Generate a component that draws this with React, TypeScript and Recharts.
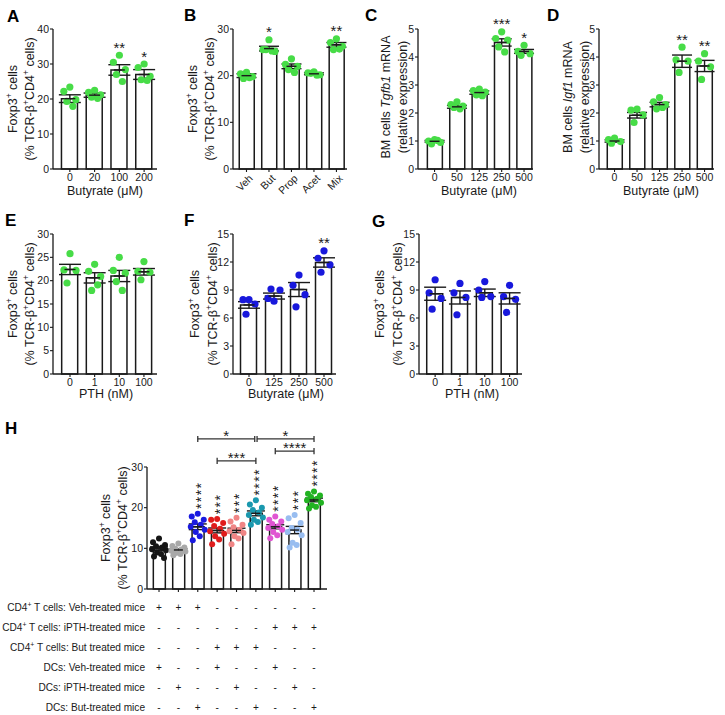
import React from "react";
import { Bar, ComposedChart, ErrorBar, ReferenceLine, Scatter, XAxis, YAxis } from "recharts";

const FONT = "'Liberation Sans', Arial, Helvetica, sans-serif";
const INK = "#1a1a1a";
const GREEN = "#47dc47";
const BLUE = "#1818dc";

// A: butyrate dose, Foxp3+ of TCR-b+CD4+
const aCats = ["0", "20", "100", "200"];
const aMean = [20.1, 21.1, 28.3, 27.0];
const aSem = [1.1, 0.6, 1.5, 1.4];
const aPts = [
  [23.4, 22.2, 19.8, 19.3, 17.9],
  [22.5, 21.9, 21.2, 20.5, 20.2],
  [32.5, 30.5, 28.4, 27.0, 25.0],
  [30.0, 29.0, 26.5, 25.5, 25.3],
];
const aSig = ["", "", "**", "*"];
const aTicks = [0, 10, 20, 30, 40];

// B: SCFAs
const bCats = ["Veh", "But", "Prop", "Acet", "Mix"];
const bMean = [20.0, 25.8, 22.0, 20.4, 26.6];
const bSem = [0.4, 0.5, 0.5, 0.2, 0.5];
const bPts = [
  [20.7, 20.4, 19.8, 19.4, 19.6],
  [27.7, 25.6, 25.2, 25.6, 25.3],
  [23.6, 22.4, 22.0, 21.3, 20.7],
  [20.8, 20.6, 20.2, 20.5, 20.1],
  [27.9, 27.1, 26.3, 25.6, 25.7],
];
const bSig = ["", "*", "", "", "**"];
const bTicks = [0, 10, 20, 30];

// C: Tgfb1
const cCats = ["0", "50", "125", "250", "500"];
const cMean = [0.99, 2.22, 2.73, 4.52, 4.2];
const cSem = [0.03, 0.05, 0.06, 0.13, 0.07];
const cPts = [
  [1.05, 1.0, 0.95, 0.9, 1.02],
  [2.4, 2.3, 2.25, 2.2, 2.15],
  [2.85, 2.8, 2.75, 2.65, 2.62],
  [4.9, 4.66, 4.6, 4.36, 4.18],
  [4.42, 4.2, 4.12, 4.06],
];
const cSig = ["", "", "", "***", "*"];
const cdTicks = [0, 1, 2, 3, 4, 5];

// D: Igf1
const dMean = [1.0, 1.92, 2.3, 3.85, 3.68];
const dSem = [0.04, 0.1, 0.08, 0.22, 0.2];
const dPts = [
  [1.1, 1.05, 0.98, 0.92],
  [2.14, 2.1, 1.93, 1.66],
  [2.55, 2.4, 2.3, 2.15, 2.2],
  [4.35, 3.9, 3.85, 3.45],
  [4.12, 3.85, 3.65, 3.2],
];
const dSig = ["", "", "", "**", "**"];

// E: PTH
const eCats = ["0", "1", "10", "100"];
const eMean = [22.4, 20.6, 21.0, 21.9];
const eSem = [1.1, 1.1, 1.2, 0.7];
const ePts = [
  [25.8, 22.3, 22.2, 19.5],
  [23.5, 22.0, 20.9, 17.9, 19.1],
  [25.0, 22.2, 21.6, 19.8, 17.9],
  [24.1, 22.0, 21.8, 20.2],
];
const eTicks = [0, 5, 10, 15, 20, 25, 30];

// F: butyrate, human
const fCats = ["0", "125", "250", "500"];
const fMean = [7.4, 8.35, 9.05, 11.95];
const fSem = [0.35, 0.32, 0.75, 0.5];
const fPts = [
  [7.96, 7.96, 7.5, 6.4],
  [7.8, 8.1, 9.0, 9.1],
  [10.6, 9.5, 8.5, 7.2],
  [13.2, 12.4, 11.7, 10.9],
];
const fSig = ["", "", "", "**"];
const fgTicks = [0, 3, 6, 9, 12, 15];

// G: PTH, human
const gCats = ["0", "1", "10", "100"];
const gMean = [8.6, 8.2, 8.7, 8.1];
const gSem = [0.7, 0.7, 0.4, 0.6];
const gPts = [
  [10.1, 8.7, 8.1, 6.95],
  [9.7, 8.7, 8.2, 6.35],
  [9.9, 9.0, 8.3, 8.2],
  [9.5, 8.3, 8.0, 6.6],
];

// H: co-cultures
const hMean = [9.9, 9.6, 15.3, 14.4, 14.4, 18.6, 15.3, 14.5, 21.9];
const hSem = [0.45, 0.3, 0.7, 0.6, 0.55, 0.6, 0.5, 0.9, 0.45];
const hPts = [
  [12.4, 11.5, 10.8, 10.5, 10.2, 9.8, 9.5, 9.0, 8.6, 8.0, 7.6],
  [11.2, 10.6, 10.2, 9.9, 9.7, 9.4, 9.2, 8.9, 8.6, 8.3],
  [18.5, 17.8, 17.0, 16.4, 15.8, 15.3, 14.6, 14.0, 13.0, 12.0],
  [17.2, 17.0, 16.2, 15.5, 14.8, 14.2, 13.6, 13.0, 12.2, 11.0],
  [17.5, 16.6, 15.8, 15.2, 14.6, 14.2, 13.8, 13.0, 12.4, 11.0],
  [21.8, 20.8, 20.0, 19.4, 18.8, 18.2, 17.6, 17.0, 16.5, 15.8],
  [17.8, 17.0, 16.6, 16.0, 15.4, 15.0, 14.6, 14.0, 13.2, 12.5],
  [18.2, 17.4, 16.2, 15.0, 14.6, 14.0, 13.2, 11.4, 10.8, 10.2],
  [24.0, 23.4, 23.0, 22.6, 22.2, 21.8, 21.2, 20.6, 20.2, 19.8],
];
const hSig = ["", "", "****", "***", "***", "****", "****", "***", "****"];
const hColors = ["#151515", "#a8a8a8", "#1a1ae0", "#e01c1c", "#f08585", "#1a98ae", "#e055d2", "#98bdf0", "#22b322"];
const hTicks = [0, 10, 20, 30];
const hBrackets = [
  { from: 2, to: 4.94, level: 36.9, label: "*" },
  { from: 5.06, to: 8, level: 36.9, label: "*" },
  { from: 6, to: 8, level: 33.9, label: "****" },
  { from: 3, to: 5, level: 31.5, label: "***" },
];
const hRowLabels = [
  "CD4^+ T cells: Veh-treated mice",
  "CD4^+ T cells: iPTH-treated mice",
  "CD4^+ T cells: But treated mice",
  "DCs: Veh-treated mice",
  "DCs: iPTH-treated mice",
  "DCs: But-treated mice",
];
const hRowSigns = ["+++------", "------+++", "---+++---", "+--+--+--", "-+--+--+-", "--+--+--+"];

const J5 = [0, -6, 6, -3, 3];
const J12 = [0, -6, 6, -3, 3, -7, 7, -2, 2, -5, 5, 0];

type Box = { x0: number; x1: number; y0: number; y1: number; padL: number; padR: number; bar: number; dot: number; cap: number; top?: number };
type Cfg = {
  cats: string[]; mean: number[]; sem: number[]; pts: number[][]; sig: string[];
  yTicks: number[]; colors: string[]; box: Box; rotTicks?: boolean; vertSig?: boolean;
  brackets?: typeof hBrackets; hideTicks?: boolean;
};

const panels: Cfg[] = [
  { cats: aCats, mean: aMean, sem: aSem, pts: aPts, sig: aSig, yTicks: aTicks, colors: [GREEN], box: { x0: 53, x1: 157, y0: 29, y1: 169, padL: 0.68, padR: 0.52, bar: 16, dot: 3.6, cap: 11 } },
  { cats: bCats, mean: bMean, sem: bSem, pts: bPts, sig: bSig, yTicks: bTicks, colors: [GREEN], rotTicks: true, box: { x0: 233, x1: 347, y0: 29, y1: 169, padL: 0.6, padR: 0.47, bar: 15, dot: 3.6, cap: 10 } },
  { cats: cCats, mean: cMean, sem: cSem, pts: cPts, sig: cSig, yTicks: cdTicks, colors: [GREEN], box: { x0: 418, x1: 533, y0: 29, y1: 169, padL: 0.74, padR: 0.4, bar: 15, dot: 3.6, cap: 10 } },
  { cats: cCats, mean: dMean, sem: dSem, pts: dPts, sig: dSig, yTicks: cdTicks, colors: [GREEN], box: { x0: 599, x1: 714, y0: 29, y1: 169, padL: 0.69, padR: 0.42, bar: 15, dot: 3.6, cap: 10 } },
  { cats: eCats, mean: eMean, sem: eSem, pts: ePts, sig: ["", "", "", ""], yTicks: eTicks, colors: [GREEN], box: { x0: 53, x1: 157, y0: 234, y1: 374, padL: 0.69, padR: 0.53, bar: 16, dot: 3.6, cap: 11 } },
  { cats: fCats, mean: fMean, sem: fSem, pts: fPts, sig: fSig, yTicks: fgTicks, colors: [BLUE], box: { x0: 233, x1: 336, y0: 234, y1: 374, padL: 0.64, padR: 0.48, bar: 16, dot: 3.6, cap: 11 } },
  { cats: gCats, mean: gMean, sem: gSem, pts: gPts, sig: ["", "", "", ""], yTicks: fgTicks, colors: [BLUE], box: { x0: 419, x1: 522, y0: 234, y1: 374, padL: 0.65, padR: 0.5, bar: 16, dot: 3.6, cap: 11 } },
  { cats: hMean.map(() => ""), mean: hMean, sem: hSem, pts: hPts, sig: hSig, yTicks: hTicks, colors: hColors, vertSig: true, brackets: hBrackets, hideTicks: true, box: { x0: 147, x1: 327, y0: 467, y1: 589, padL: 0.62, padR: 0.67, bar: 12, dot: 3, cap: 9, top: 55 } },
];

function Panel({ cfg }: { cfg: Cfg }) {
  const { box, cats, colors } = cfg;
  const ML = 45;
  const MR = 5;
  const MT = box.top ?? 30;
  const XH = 40;
  const width = box.x1 - box.x0 + ML + MR;
  const height = box.y1 - box.y0 + MT + XH;
  const n = cats.length;
  const rows = cfg.mean.map((m, i) => ({ x: i, mean: m, sem: cfg.sem[i] }));
  const dots = cfg.pts.flatMap((g, i) => g.map((v, k) => ({ x: i, y: v, k })));
  const sigRows = cfg.sig
    .map((s, i) => ({ x: i, top: Math.max(...cfg.pts[i]), s }))
    .filter((r) => r.s);
  const jit = n > 6 ? J12 : J5;

  const dotShape = (p: any) => (
    <circle
      cx={p.cx + jit[p.payload.k % jit.length]}
      cy={p.cy}
      r={box.dot}
      fill={colors[p.payload.x % colors.length]}
    />
  );
  const meanShape = (p: any) => (
    <line x1={p.cx - box.cap / 2} x2={p.cx + box.cap / 2} y1={p.cy} y2={p.cy} stroke={INK} strokeWidth={1.4} />
  );
  const sigShape = (p: any) => {
    const s: string = p.payload.s;
    if (cfg.vertSig) {
      // stacked stars: one rotated string reading upwards from above the top dot
      const fs = 14;
      const bx = p.cx + fs * 0.57;
      const by = p.cy - 4.8;
      return (
        <text x={bx} y={by} fontSize={fs} letterSpacing={1.4} fill={INK} transform={`rotate(-90 ${bx} ${by})`}>
          {s}
        </text>
      );
    }
    return (
      <text x={p.cx} y={p.cy - 2.4} textAnchor="middle" fontSize={15} fill={INK}>
        {s}
      </text>
    );
  };
  const rotTick = (p: any) => {
    const ax = p.x + 7;
    const ay = p.y + 5;
    return (
      <text x={ax} y={ay} textAnchor="end" fontSize={10.5} fill={INK} transform={`rotate(-45 ${ax} ${ay})`}>
        {cats[p.payload.value]}
      </text>
    );
  };

  const bracketLines: React.ReactNode[] = [];
  (cfg.brackets ?? []).forEach((b, i) => {
    bracketLines.push(
      <ReferenceLine
        key={`h${i}`}
        segment={[{ x: b.from, y: b.level }, { x: b.to, y: b.level }]}
        stroke="#333"
        strokeWidth={1.3}
        ifOverflow="visible"
        label={{ value: b.label, position: "top", offset: -2, fontSize: 15, fill: INK }}
      />,
      <ReferenceLine key={`l${i}`} segment={[{ x: b.from, y: b.level - 0.75 }, { x: b.from, y: b.level + 0.75 }]} stroke="#333" strokeWidth={1.3} ifOverflow="visible" />,
      <ReferenceLine key={`r${i}`} segment={[{ x: b.to, y: b.level - 0.75 }, { x: b.to, y: b.level + 0.75 }]} stroke="#333" strokeWidth={1.3} ifOverflow="visible" />
    );
  });

  return (
    <div style={{ position: "absolute", left: box.x0 - ML, top: box.y0 - MT }}>
      <ComposedChart width={width} height={height} data={rows} margin={{ top: MT, right: MR, bottom: 0, left: 0 }}>
        <XAxis
          type="number"
          dataKey="x"
          domain={[-box.padL, n - 1 + box.padR]}
          ticks={cats.map((_, i) => i)}
          interval={0}
          height={XH}
          tickSize={3}
          tickMargin={2}
          axisLine={{ stroke: INK, strokeWidth: 1.3 }}
          tickLine={{ stroke: INK, strokeWidth: 1.1 }}
          tick={cfg.rotTicks ? rotTick : { fontSize: 10.5, fill: INK }}
          tickFormatter={(v: number) => (cfg.hideTicks ? "" : cats[v] ?? "")}
        />
        <YAxis
          type="number"
          domain={[0, cfg.yTicks[cfg.yTicks.length - 1]]}
          ticks={cfg.yTicks}
          interval={0}
          width={ML}
          tickSize={3}
          tickMargin={1}
          axisLine={{ stroke: INK, strokeWidth: 1.3 }}
          tickLine={{ stroke: INK, strokeWidth: 1.1 }}
          tick={{ fontSize: 10.5, fill: INK }}
        />
        <Bar dataKey="mean" barSize={box.bar} fill="#fff" stroke={INK} strokeWidth={1.5} isAnimationActive={false} />
        <Scatter data={dots} dataKey="y" shape={dotShape} isAnimationActive={false} />
        <Scatter data={rows} dataKey="mean" shape={meanShape} isAnimationActive={false}>
          <ErrorBar dataKey="sem" direction="y" width={box.cap} stroke={INK} strokeWidth={1.4} isAnimationActive={false} />
        </Scatter>
        <Scatter data={sigRows} dataKey="top" shape={sigShape} isAnimationActive={false} />
        {bracketLines}
      </ComposedChart>
    </div>
  );
}

type Part = string | [string, string];

function rich(parts: Part[], fs: number) {
  let cur = 0;
  return parts.map((p, i) => {
    if (typeof p === "string") {
      const dy = -cur;
      cur = 0;
      return (
        <tspan key={i} dy={dy}>
          {p}
        </tspan>
      );
    }
    const [kind, t] = p;
    if (kind === "sup") {
      const target = -fs * 0.38;
      const dy = target - cur;
      cur = target;
      return (
        <tspan key={i} dy={dy} fontSize={fs * 0.68}>
          {t}
        </tspan>
      );
    }
    const dy = -cur;
    cur = 0;
    return (
      <tspan key={i} dy={dy} fontStyle="italic">
        {t}
      </tspan>
    );
  });
}

const FOX: Part[] = ["Foxp3", ["sup", "+"], " cells"];
const TCR: Part[] = ["(% TCR-\u03b2", ["sup", "+"], "CD4", ["sup", "+"], " cells)"];

const yLabels = [
  { l1: FOX, l2: TCR, x1: 17, x2: 34, cy: 99 },
  { l1: FOX, l2: TCR, x1: 197, x2: 214, cy: 99 },
  { l1: ["BM cells ", ["i", "Tgfb1"], " mRNA"] as Part[], l2: ["(relative expression)"] as Part[], x1: 389.5, x2: 406.5, cy: 97 },
  { l1: ["BM cells ", ["i", "Igf1"], " mRNA"] as Part[], l2: ["(relative expression)"] as Part[], x1: 571.5, x2: 588.5, cy: 97 },
  { l1: FOX, l2: TCR, x1: 17, x2: 34, cy: 304 },
  { l1: FOX, l2: TCR, x1: 199, x2: 217, cy: 304 },
  { l1: FOX, l2: TCR, x1: 384, x2: 402, cy: 304 },
  { l1: FOX, l2: TCR, x1: 110, x2: 127, cy: 528 },
];

const letters = [
  { t: "A", x: 7, y: 22 },
  { t: "B", x: 184, y: 21 },
  { t: "C", x: 365, y: 21 },
  { t: "D", x: 547, y: 21 },
  { t: "E", x: 5, y: 226 },
  { t: "F", x: 184, y: 226 },
  { t: "G", x: 372, y: 227 },
  { t: "H", x: 5, y: 434 },
];

const titles = [
  { t: "Butyrate (\u03bcM)", x: 105, y: 195 },
  { t: "Butyrate (\u03bcM)", x: 479, y: 195 },
  { t: "Butyrate (\u03bcM)", x: 661, y: 195 },
  { t: "PTH (nM)", x: 106, y: 398 },
  { t: "Butyrate (\u03bcM)", x: 286, y: 398 },
  { t: "PTH (nM)", x: 472, y: 398 },
];

function Overlay() {
  const hb = panels[7].box;
  const step = (hb.x1 - hb.x0) / (hMean.length - 1 + hb.padL + hb.padR);
  const colX = (i: number) => hb.x0 + (i + hb.padL) * step;
  const FS = 12.5;
  const TF = 10.1;
  return (
    <svg width={725} height={715} style={{ position: "absolute", left: 0, top: 0, pointerEvents: "none" }}>
      {letters.map((l) => (
        <text key={l.t} x={l.x} y={l.y} fontSize={17} fontWeight="bold" fill="#000">
          {l.t}
        </text>
      ))}
      {titles.map((t, i) => (
        <text key={i} x={t.x} y={t.y} fontSize={FS} textAnchor="middle" fill={INK}>
          {t.t}
        </text>
      ))}
      {yLabels.map((l, i) => (
        <g key={i}>
          <text x={l.x1} y={l.cy} fontSize={FS} textAnchor="middle" fill={INK} transform={`rotate(-90 ${l.x1} ${l.cy})`}>
            {rich(l.l1, FS)}
          </text>
          <text x={l.x2} y={l.cy} fontSize={FS} textAnchor="middle" fill={INK} transform={`rotate(-90 ${l.x2} ${l.cy})`}>
            {rich(l.l2, FS)}
          </text>
        </g>
      ))}
      {hRowLabels.map((lab, r) => {
        const y = 611 + r * 20;
        const parts: Part[] = lab.includes("^+")
          ? [lab.split("^+")[0], ["sup", "+"], lab.split("^+")[1]]
          : [lab];
        return (
          <g key={r}>
            <text x={145} y={y} fontSize={TF} textAnchor="end" fill={INK}>
              {rich(parts, TF)}
            </text>
            {hRowSigns[r].split("").map((c, i) => (
              <text key={i} x={colX(i)} y={y} fontSize={TF} textAnchor="middle" fill={INK}>
                {c}
              </text>
            ))}
          </g>
        );
      })}
    </svg>
  );
}

export default function App() {
  return (
    <div style={{ position: "absolute", left: 0, top: 0, width: 725, height: 715, background: "#fff", fontFamily: FONT }}>
      {panels.map((p, i) => (
        <Panel key={i} cfg={p} />
      ))}
      <Overlay />
    </div>
  );
}
